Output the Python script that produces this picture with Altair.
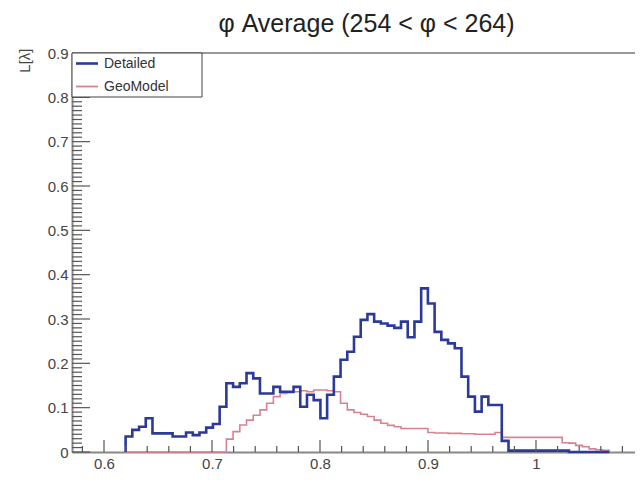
import altair as alt
import pandas as pd

SERIES = ["Detailed", "GeoModel"]
COLORS = ["#2b3a9a", "#d9828f"]
WIDTHS = [2.6, 1.6]

BIN_START = 0.62
BIN_WIDTH = 0.00622

DETAILED = [0.035, 0.050, 0.057, 0.076, 0.042, 0.042, 0.042, 0.035, 0.035, 0.044,
            0.038, 0.044, 0.055, 0.063, 0.102, 0.155, 0.147, 0.155, 0.178, 0.166,
            0.132, 0.132, 0.147, 0.136, 0.136, 0.147, 0.102, 0.129, 0.117, 0.076,
            0.129, 0.170, 0.208, 0.226, 0.260, 0.298, 0.311, 0.294, 0.290, 0.285,
            0.280, 0.294, 0.259, 0.294, 0.369, 0.335, 0.271, 0.253, 0.245, 0.234,
            0.170, 0.125, 0.091, 0.125, 0.106, 0.106, 0.025, 0.003, 0.003, 0.003,
            0.003, 0.003, 0.003, 0.003, 0.003, 0.003, 0.0, 0.0, 0.0, 0.0,
            0.0, 0.0]

GEOMODEL = [0.0, 0.0, 0.0, 0.0, 0.0, 0.0, 0.0, 0.0, 0.0, 0.0,
            0.0, 0.0, 0.0, 0.0, 0.0, 0.029, 0.046, 0.061, 0.072, 0.083,
            0.095, 0.110, 0.125, 0.132, 0.134, 0.136, 0.138, 0.136, 0.140, 0.140,
            0.138, 0.136, 0.110, 0.095, 0.089, 0.085, 0.080, 0.072, 0.065, 0.060,
            0.057, 0.053, 0.053, 0.053, 0.053, 0.044, 0.043, 0.043, 0.042, 0.042,
            0.041, 0.041, 0.040, 0.040, 0.040, 0.044, 0.033, 0.033, 0.033, 0.033,
            0.033, 0.033, 0.033, 0.033, 0.033, 0.021, 0.020, 0.015, 0.012, 0.007,
            0.005, 0.004]

X_MAJOR = [0.6, 0.7, 0.8, 0.9, 1.0]
X_MINOR = [0.58, 0.62, 0.64, 0.66, 0.68, 0.72, 0.74, 0.76, 0.78, 0.82, 0.84, 0.86,
           0.88, 0.92, 0.94, 0.96, 0.98, 1.02, 1.04, 1.06, 1.08]
Y_MAJOR = [0, 0.1, 0.2, 0.3, 0.4, 0.5, 0.6, 0.7, 0.8, 0.9]
Y_MINOR = [round(m + k * 0.01, 2) for m in Y_MAJOR[:-1] for k in range(1, 10)]

X_DOMAIN = [0.57037, 1.09167]
Y_DOMAIN = [0, 0.9]

TITLE = "φ Average (254 < φ < 264)"
Y_TITLE = "L[λ]"

W, H = 563, 399
FONT = "Liberation Sans"


def hist_rows(name, values):
    rows = []
    edges = [BIN_START + i * BIN_WIDTH for i in range(len(values) + 1)]
    rows.append({"series": name, "x": edges[0], "y": 0.0, "k": 0})
    for i, v in enumerate(values):
        rows.append({"series": name, "x": edges[i], "y": v, "k": i + 1})
    rows.append({"series": name, "x": edges[-1], "y": 0.0, "k": len(values) + 1})
    return rows


hist = pd.DataFrame(hist_rows(SERIES[0], DETAILED) + hist_rows(SERIES[1], GEOMODEL))

x_axis = alt.Axis(values=X_MAJOR, format="~g", ticks=False, grid=False, title=None,
                  domainColor="#888", domainWidth=2, labelFontSize=15, labelColor="#444",
                  labelFont=FONT, labelPadding=4, labelFlush=False, labelOverlap=False,
                  labelBound=False)
y_axis = alt.Axis(values=Y_MAJOR, format="~g", ticks=False, grid=False, title=Y_TITLE,
                  domainColor="#888", domainWidth=2, labelFontSize=15, labelColor="#444",
                  labelFont=FONT, labelPadding=4, labelFlush=False, labelOverlap=False,
                  titleFont=FONT, titleFontSize=15, titleFontWeight="normal",
                  titleColor="#444", titleAngle=270, titleAlign="right",
                  titleBaseline="middle", titleX=-48, titleY=-5)

xs = alt.Scale(domain=X_DOMAIN, nice=False, zero=False)
ys = alt.Scale(domain=Y_DOMAIN, nice=False, zero=False)
cs = alt.Scale(domain=SERIES, range=COLORS)
ws = alt.Scale(domain=SERIES, range=WIDTHS)


def line_layer(name):
    return alt.Chart(hist).transform_filter(alt.datum.series == name).mark_line(
        interpolate="step-after").encode(
        x=alt.X("x:Q", scale=xs, axis=x_axis),
        y=alt.Y("y:Q", scale=ys, axis=y_axis),
        color=alt.Color("series:N", scale=cs, legend=None),
        strokeWidth=alt.StrokeWidth("series:N", scale=ws, legend=None),
        order="k:Q",
    )


def xtick_layer(vals, length):
    df = pd.DataFrame({"x": vals})
    return alt.Chart(df).mark_rule(color="#555", strokeWidth=1.2).encode(
        x=alt.X("x:Q", scale=xs, axis=x_axis),
        y=alt.value(H), y2=alt.value(H - length))


def ytick_layer(vals, length):
    df = pd.DataFrame({"y": vals})
    return alt.Chart(df).mark_rule(color="#555", strokeWidth=1.2).encode(
        y=alt.Y("y:Q", scale=ys, axis=y_axis),
        x=alt.value(0), x2=alt.value(length))


frame_top = alt.Chart(pd.DataFrame({"a": [0]})).mark_rule(color="#999", strokeWidth=2).encode(
    x=alt.value(0), x2=alt.value(W), y=alt.value(0))

legend_df = pd.DataFrame({"series": SERIES, "row": [0, 1]})
legend_box = alt.Chart(pd.DataFrame({"a": [0]})).mark_rect(
    fill="white", stroke="#444", strokeWidth=1).encode(
    x=alt.value(0), x2=alt.value(130), y=alt.value(0), y2=alt.value(44))


def legend_entry(i):
    d = legend_df[legend_df.row == i]
    yv = 10.5 + 23 * i
    sample = alt.Chart(d).mark_rule(strokeWidth=WIDTHS[i] if i == 0 else 1.8).encode(
        x=alt.value(4), x2=alt.value(26), y=alt.value(yv),
        color=alt.Color("series:N", scale=cs, legend=None))
    label = alt.Chart(d).mark_text(align="left", baseline="middle", font=FONT,
                                   fontSize=14, color="#333").encode(
        x=alt.value(32), y=alt.value(yv), text="series:N")
    return sample + label


chart = alt.layer(
    line_layer(SERIES[1]),
    line_layer(SERIES[0]),
    xtick_layer(X_MAJOR, 12),
    xtick_layer(X_MINOR, 6),
    ytick_layer(Y_MAJOR, 18),
    ytick_layer(Y_MINOR, 10),
    frame_top,
    legend_box,
    legend_entry(0),
    legend_entry(1),
).properties(
    width=W, height=H,
    title=alt.TitleParams(TITLE, font=FONT, fontSize=25, fontWeight="normal",
                          color="#222", anchor="middle", frame="group",
                          baseline="alphabetic", offset=1, dx=13, dy=12),
    autosize=alt.AutoSizeParams(type="none"),
    padding={"left": 64, "top": 45, "right": 0, "bottom": 28},
).configure_view(stroke=None).configure(background="white")

chart.save("out.html", embed_options={"renderer": "svg", "actions": False})
